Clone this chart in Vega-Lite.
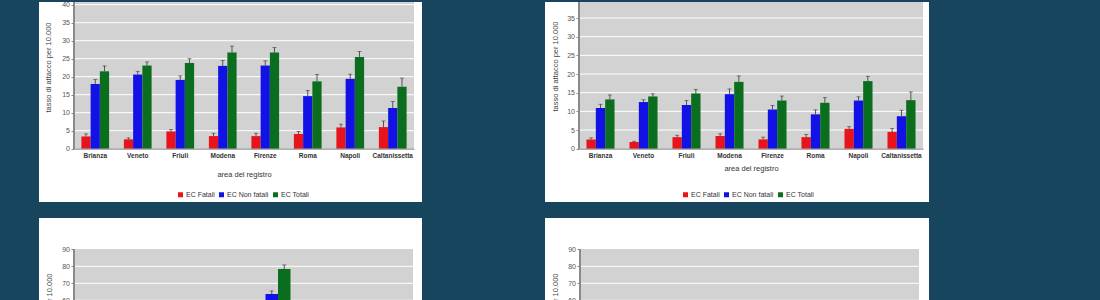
{
  "background": "#17455e",
  "padding": {"left": 38, "top": 0, "right": 172, "bottom": 0},
  "config": {"font": "Liberation Sans", "view": {"stroke": null}, "axisY": {"labelOverlap": false}},
  "datasets": {
    "tl": [
      {"area": "Brianza", "serie": "EC Fatali", "valore": 3.4, "sup": 4.1},
      {"area": "Brianza", "serie": "EC Non fatali", "valore": 18.0, "sup": 19.2},
      {"area": "Brianza", "serie": "EC Totali", "valore": 21.5, "sup": 23.0},
      {"area": "Veneto", "serie": "EC Fatali", "valore": 2.6, "sup": 3.0},
      {"area": "Veneto", "serie": "EC Non fatali", "valore": 20.6, "sup": 21.5},
      {"area": "Veneto", "serie": "EC Totali", "valore": 23.1, "sup": 24.1},
      {"area": "Friuli", "serie": "EC Fatali", "valore": 4.8, "sup": 5.3},
      {"area": "Friuli", "serie": "EC Non fatali", "valore": 19.1, "sup": 20.2},
      {"area": "Friuli", "serie": "EC Totali", "valore": 23.8, "sup": 25.0},
      {"area": "Modena", "serie": "EC Fatali", "valore": 3.5, "sup": 4.3},
      {"area": "Modena", "serie": "EC Non fatali", "valore": 23.0, "sup": 24.5},
      {"area": "Modena", "serie": "EC Totali", "valore": 26.7, "sup": 28.5},
      {"area": "Firenze", "serie": "EC Fatali", "valore": 3.5, "sup": 4.3},
      {"area": "Firenze", "serie": "EC Non fatali", "valore": 23.1, "sup": 24.4},
      {"area": "Firenze", "serie": "EC Totali", "valore": 26.7, "sup": 28.1},
      {"area": "Roma", "serie": "EC Fatali", "valore": 4.1, "sup": 4.8},
      {"area": "Roma", "serie": "EC Non fatali", "valore": 14.6, "sup": 16.2},
      {"area": "Roma", "serie": "EC Totali", "valore": 18.7, "sup": 20.6},
      {"area": "Napoli", "serie": "EC Fatali", "valore": 5.9, "sup": 6.8},
      {"area": "Napoli", "serie": "EC Non fatali", "valore": 19.4, "sup": 20.7},
      {"area": "Napoli", "serie": "EC Totali", "valore": 25.5, "sup": 27.0},
      {"area": "Caltanissetta", "serie": "EC Fatali", "valore": 6.0, "sup": 7.7},
      {"area": "Caltanissetta", "serie": "EC Non fatali", "valore": 11.3, "sup": 13.1},
      {"area": "Caltanissetta", "serie": "EC Totali", "valore": 17.2, "sup": 19.6}
    ],
    "tr": [
      {"area": "Brianza", "serie": "EC Fatali", "valore": 2.5, "sup": 2.9},
      {"area": "Brianza", "serie": "EC Non fatali", "valore": 10.9, "sup": 11.9},
      {"area": "Brianza", "serie": "EC Totali", "valore": 13.2, "sup": 14.4},
      {"area": "Veneto", "serie": "EC Fatali", "valore": 1.8, "sup": 2.0},
      {"area": "Veneto", "serie": "EC Non fatali", "valore": 12.5, "sup": 13.1},
      {"area": "Veneto", "serie": "EC Totali", "valore": 14.0, "sup": 14.7},
      {"area": "Friuli", "serie": "EC Fatali", "valore": 3.1, "sup": 3.6},
      {"area": "Friuli", "serie": "EC Non fatali", "valore": 11.7, "sup": 12.9},
      {"area": "Friuli", "serie": "EC Totali", "valore": 14.8, "sup": 15.9},
      {"area": "Modena", "serie": "EC Fatali", "valore": 3.4, "sup": 4.0},
      {"area": "Modena", "serie": "EC Non fatali", "valore": 14.6, "sup": 16.0},
      {"area": "Modena", "serie": "EC Totali", "valore": 17.9, "sup": 19.5},
      {"area": "Firenze", "serie": "EC Fatali", "valore": 2.5, "sup": 3.1},
      {"area": "Firenze", "serie": "EC Non fatali", "valore": 10.5, "sup": 11.6},
      {"area": "Firenze", "serie": "EC Totali", "valore": 12.9, "sup": 14.1},
      {"area": "Roma", "serie": "EC Fatali", "valore": 3.1, "sup": 3.8},
      {"area": "Roma", "serie": "EC Non fatali", "valore": 9.2, "sup": 10.4},
      {"area": "Roma", "serie": "EC Totali", "valore": 12.3, "sup": 13.7},
      {"area": "Napoli", "serie": "EC Fatali", "valore": 5.3, "sup": 5.9},
      {"area": "Napoli", "serie": "EC Non fatali", "valore": 12.9, "sup": 13.9},
      {"area": "Napoli", "serie": "EC Totali", "valore": 18.1, "sup": 19.4},
      {"area": "Caltanissetta", "serie": "EC Fatali", "valore": 4.5, "sup": 5.4},
      {"area": "Caltanissetta", "serie": "EC Non fatali", "valore": 8.7, "sup": 10.3},
      {"area": "Caltanissetta", "serie": "EC Totali", "valore": 13.0, "sup": 15.2}
    ],
    "bl": [
      {"classe": "35-44", "serie": "EC Fatali", "valore": 1.2, "sup": 1.6},
      {"classe": "35-44", "serie": "EC Non fatali", "valore": 5.0, "sup": 5.8},
      {"classe": "35-44", "serie": "EC Totali", "valore": 6.2, "sup": 7.0},
      {"classe": "45-54", "serie": "EC Fatali", "valore": 3.5, "sup": 4.2},
      {"classe": "45-54", "serie": "EC Non fatali", "valore": 16.0, "sup": 17.5},
      {"classe": "45-54", "serie": "EC Totali", "valore": 19.5, "sup": 21.0},
      {"classe": "55-64", "serie": "EC Fatali", "valore": 7.5, "sup": 8.6},
      {"classe": "55-64", "serie": "EC Non fatali", "valore": 33.0, "sup": 35.0},
      {"classe": "55-64", "serie": "EC Totali", "valore": 40.5, "sup": 42.5},
      {"classe": "65-74", "serie": "EC Fatali", "valore": 14.5, "sup": 16.0},
      {"classe": "65-74", "serie": "EC Non fatali", "valore": 63.7, "sup": 65.5},
      {"classe": "65-74", "serie": "EC Totali", "valore": 78.4, "sup": 80.8},
      {"classe": "75-84", "serie": "EC Fatali", "valore": 12.0, "sup": 13.5},
      {"classe": "75-84", "serie": "EC Non fatali", "valore": 38.0, "sup": 40.5},
      {"classe": "75-84", "serie": "EC Totali", "valore": 50.0, "sup": 53.0},
      {"classe": "85+", "serie": "EC Fatali", "valore": 9.0, "sup": 10.5},
      {"classe": "85+", "serie": "EC Non fatali", "valore": 22.0, "sup": 24.5},
      {"classe": "85+", "serie": "EC Totali", "valore": 31.0, "sup": 34.0}
    ],
    "br": [
      {"classe": "35-44", "serie": "EC Fatali", "valore": 0.4, "sup": 0.7},
      {"classe": "35-44", "serie": "EC Non fatali", "valore": 1.2, "sup": 1.6},
      {"classe": "35-44", "serie": "EC Totali", "valore": 1.6, "sup": 2.0},
      {"classe": "45-54", "serie": "EC Fatali", "valore": 1.0, "sup": 1.4},
      {"classe": "45-54", "serie": "EC Non fatali", "valore": 4.0, "sup": 4.8},
      {"classe": "45-54", "serie": "EC Totali", "valore": 5.0, "sup": 5.9},
      {"classe": "55-64", "serie": "EC Fatali", "valore": 2.5, "sup": 3.1},
      {"classe": "55-64", "serie": "EC Non fatali", "valore": 11.0, "sup": 12.2},
      {"classe": "55-64", "serie": "EC Totali", "valore": 13.5, "sup": 14.8},
      {"classe": "65-74", "serie": "EC Fatali", "valore": 7.0, "sup": 8.0},
      {"classe": "65-74", "serie": "EC Non fatali", "valore": 26.0, "sup": 27.8},
      {"classe": "65-74", "serie": "EC Totali", "valore": 33.0, "sup": 35.0},
      {"classe": "75-84", "serie": "EC Fatali", "valore": 10.0, "sup": 11.3},
      {"classe": "75-84", "serie": "EC Non fatali", "valore": 30.0, "sup": 32.0},
      {"classe": "75-84", "serie": "EC Totali", "valore": 40.0, "sup": 42.5},
      {"classe": "85+", "serie": "EC Fatali", "valore": 9.5, "sup": 11.0},
      {"classe": "85+", "serie": "EC Non fatali", "valore": 20.0, "sup": 22.5},
      {"classe": "85+", "serie": "EC Totali", "valore": 29.5, "sup": 32.5}
    ]
  },
  "spacing": 16,
  "resolve": {"scale": {"color": "independent", "xOffset": "independent"}, "legend": {"color": "independent"}},
  "vconcat": [
    {
      "spacing": 123,
      "bounds": "flush",
      "resolve": {"scale": {"color": "independent", "xOffset": "independent"}, "legend": {"color": "independent"}},
      "hconcat": [
        {
          "width": 383,
          "height": 200,
          "view": {"fill": "#ffffff", "stroke": null},
          "data": {"name": "tl"},
          "layer": [
            {
              "mark": {"type": "bar", "color": "#d2d2d2", "clip": true},
              "encoding": {
                "x": {"field": "area", "type": "nominal", "sort": ["Brianza", "Veneto", "Friuli", "Modena", "Firenze", "Roma", "Napoli", "Caltanissetta"], "scale": {"range": [35, 375], "paddingInner": 0, "paddingOuter": 0}, "axis": {"title": "area del registro", "offset": -53.3, "zindex": 1, "labelAngle": 0, "labelOverlap": false, "labelFontSize": 6.5, "labelFontWeight": "bold", "labelColor": "#333333", "labelPadding": 4, "ticks": false, "domainColor": "#8a8a8a", "titleFontSize": 7.5, "titleFontWeight": "normal", "titleColor": "#333333", "titlePadding": 11}},
                "y": {"datum": 0, "type": "quantitative", "scale": {"domain": [-14.81, 40.75], "nice": false, "zero": false}, "axis": {"title": "tasso di attacco per 10.000", "values": [0, 5, 10, 15, 20, 25, 30, 35, 40], "labelOverlap": false, "offset": -35, "zindex": 1, "domain": false, "grid": false, "tickSize": 3, "tickColor": "#8a8a8a", "labelFontSize": 7, "labelColor": "#555555", "labelPadding": 1.5, "titleFontSize": 7.5, "titleFontWeight": "normal", "titleColor": "#444444", "titleX": -25.5, "titleY": 65, "titleAngle": -90, "titleAlign": "center", "titleBaseline": "middle"}},
                "y2": {"datum": 45}
              }
            },
            {
              "data": {"values": [{"g": 5}, {"g": 10}, {"g": 15}, {"g": 20}, {"g": 25}, {"g": 30}, {"g": 35}, {"g": 40}]},
              "mark": {"type": "rule", "color": "#ffffff", "strokeWidth": 1},
              "encoding": {"y": {"field": "g", "type": "quantitative", "axis": {"title": "tasso di attacco per 10.000", "values": [0, 5, 10, 15, 20, 25, 30, 35, 40], "labelOverlap": false, "offset": -35, "zindex": 1, "domain": false, "grid": false, "tickSize": 3, "tickColor": "#8a8a8a", "labelFontSize": 7, "labelColor": "#555555", "labelPadding": 1.5, "titleFontSize": 7.5, "titleFontWeight": "normal", "titleColor": "#444444", "titleX": -25.5, "titleY": 65, "titleAngle": -90, "titleAlign": "center", "titleBaseline": "middle"}}}
            },
            {
              "mark": {"type": "rule", "color": "#8a8a8a", "clip": true},
              "encoding": {
                "x": {"datum": "Brianza", "type": "nominal", "bandPosition": 0},
                "y": {"datum": 0, "type": "quantitative", "axis": {"title": "tasso di attacco per 10.000", "values": [0, 5, 10, 15, 20, 25, 30, 35, 40], "labelOverlap": false, "offset": -35, "zindex": 1, "domain": false, "grid": false, "tickSize": 3, "tickColor": "#8a8a8a", "labelFontSize": 7, "labelColor": "#555555", "labelPadding": 1.5, "titleFontSize": 7.5, "titleFontWeight": "normal", "titleColor": "#444444", "titleX": -25.5, "titleY": 65, "titleAngle": -90, "titleAlign": "center", "titleBaseline": "middle"}},
                "y2": {"datum": 45}
              }
            },
            {
              "mark": {"type": "bar", "clip": true},
              "encoding": {
                "x": {"field": "area", "type": "nominal", "sort": ["Brianza", "Veneto", "Friuli", "Modena", "Firenze", "Roma", "Napoli", "Caltanissetta"]},
                "xOffset": {"field": "serie", "type": "nominal", "sort": ["EC Fatali", "EC Non fatali", "EC Totali"], "scale": {"paddingInner": 0, "paddingOuter": 0.8}},
                "y": {"field": "valore", "type": "quantitative", "axis": {"title": "tasso di attacco per 10.000", "values": [0, 5, 10, 15, 20, 25, 30, 35, 40], "labelOverlap": false, "offset": -35, "zindex": 1, "domain": false, "grid": false, "tickSize": 3, "tickColor": "#8a8a8a", "labelFontSize": 7, "labelColor": "#555555", "labelPadding": 1.5, "titleFontSize": 7.5, "titleFontWeight": "normal", "titleColor": "#444444", "titleX": -25.5, "titleY": 65, "titleAngle": -90, "titleAlign": "center", "titleBaseline": "middle"}},
                "color": {"field": "serie", "type": "nominal", "scale": {"domain": ["EC Fatali", "EC Non fatali", "EC Totali"], "range": ["#e8141c", "#1212e6", "#0a6e1e"]}, "legend": {"orient": "none", "legendX": 138, "legendY": 189, "direction": "horizontal", "title": null, "symbolType": "square", "symbolSize": 25, "symbolStrokeWidth": 0, "labelFontSize": 7, "labelColor": "#333333", "labelOffset": 2, "columnPadding": 3, "padding": 0}}
              }
            },
            {
              "mark": {"type": "rule", "color": "#333333", "strokeWidth": 0.8, "clip": true},
              "encoding": {
                "x": {"field": "area", "type": "nominal", "sort": ["Brianza", "Veneto", "Friuli", "Modena", "Firenze", "Roma", "Napoli", "Caltanissetta"]},
                "xOffset": {"field": "serie", "type": "nominal", "sort": ["EC Fatali", "EC Non fatali", "EC Totali"]},
                "y": {"field": "valore", "type": "quantitative", "axis": {"title": "tasso di attacco per 10.000", "values": [0, 5, 10, 15, 20, 25, 30, 35, 40], "labelOverlap": false, "offset": -35, "zindex": 1, "domain": false, "grid": false, "tickSize": 3, "tickColor": "#8a8a8a", "labelFontSize": 7, "labelColor": "#555555", "labelPadding": 1.5, "titleFontSize": 7.5, "titleFontWeight": "normal", "titleColor": "#444444", "titleX": -25.5, "titleY": 65, "titleAngle": -90, "titleAlign": "center", "titleBaseline": "middle"}},
                "y2": {"field": "sup"}
              }
            },
            {
              "mark": {"type": "tick", "orient": "horizontal", "size": 4, "thickness": 0.8, "color": "#333333", "clip": true},
              "encoding": {
                "x": {"field": "area", "type": "nominal", "sort": ["Brianza", "Veneto", "Friuli", "Modena", "Firenze", "Roma", "Napoli", "Caltanissetta"]},
                "xOffset": {"field": "serie", "type": "nominal", "sort": ["EC Fatali", "EC Non fatali", "EC Totali"]},
                "y": {"field": "sup", "type": "quantitative", "axis": {"title": "tasso di attacco per 10.000", "values": [0, 5, 10, 15, 20, 25, 30, 35, 40], "labelOverlap": false, "offset": -35, "zindex": 1, "domain": false, "grid": false, "tickSize": 3, "tickColor": "#8a8a8a", "labelFontSize": 7, "labelColor": "#555555", "labelPadding": 1.5, "titleFontSize": 7.5, "titleFontWeight": "normal", "titleColor": "#444444", "titleX": -25.5, "titleY": 65, "titleAngle": -90, "titleAlign": "center", "titleBaseline": "middle"}}
              }
            }
          ]
        },
        {
          "width": 384,
          "height": 200,
          "view": {"fill": "#ffffff", "stroke": null},
          "data": {"name": "tr"},
          "layer": [
            {
              "mark": {"type": "bar", "color": "#d2d2d2", "clip": true},
              "encoding": {
                "x": {"field": "area", "type": "nominal", "sort": ["Brianza", "Veneto", "Friuli", "Modena", "Firenze", "Roma", "Napoli", "Caltanissetta"], "scale": {"range": [34, 378], "paddingInner": 0, "paddingOuter": 0}, "axis": {"title": "area del registro", "offset": -53.3, "zindex": 1, "labelAngle": 0, "labelOverlap": false, "labelFontSize": 6.5, "labelFontWeight": "bold", "labelColor": "#333333", "labelPadding": 4, "ticks": false, "domainColor": "#8a8a8a", "titleFontSize": 7.5, "titleFontWeight": "normal", "titleColor": "#333333", "titlePadding": 5}},
                "y": {"datum": 0, "type": "quantitative", "scale": {"domain": [-14.27, 39.29], "nice": false, "zero": false}, "axis": {"title": "tasso di attacco per 10.000", "values": [0, 5, 10, 15, 20, 25, 30, 35], "labelOverlap": false, "offset": -34, "zindex": 1, "domain": false, "grid": false, "tickSize": 3, "tickColor": "#8a8a8a", "labelFontSize": 7, "labelColor": "#555555", "labelPadding": 1.5, "titleFontSize": 7.5, "titleFontWeight": "normal", "titleColor": "#444444", "titleX": -24, "titleY": 64, "titleAngle": -90, "titleAlign": "center", "titleBaseline": "middle"}},
                "y2": {"datum": 45}
              }
            },
            {
              "data": {"values": [{"g": 5}, {"g": 10}, {"g": 15}, {"g": 20}, {"g": 25}, {"g": 30}, {"g": 35}]},
              "mark": {"type": "rule", "color": "#ffffff", "strokeWidth": 1},
              "encoding": {"y": {"field": "g", "type": "quantitative", "axis": {"title": "tasso di attacco per 10.000", "values": [0, 5, 10, 15, 20, 25, 30, 35], "labelOverlap": false, "offset": -34, "zindex": 1, "domain": false, "grid": false, "tickSize": 3, "tickColor": "#8a8a8a", "labelFontSize": 7, "labelColor": "#555555", "labelPadding": 1.5, "titleFontSize": 7.5, "titleFontWeight": "normal", "titleColor": "#444444", "titleX": -24, "titleY": 64, "titleAngle": -90, "titleAlign": "center", "titleBaseline": "middle"}}}
            },
            {
              "mark": {"type": "rule", "color": "#8a8a8a", "clip": true},
              "encoding": {
                "x": {"datum": "Brianza", "type": "nominal", "bandPosition": 0},
                "y": {"datum": 0, "type": "quantitative", "axis": {"title": "tasso di attacco per 10.000", "values": [0, 5, 10, 15, 20, 25, 30, 35], "labelOverlap": false, "offset": -34, "zindex": 1, "domain": false, "grid": false, "tickSize": 3, "tickColor": "#8a8a8a", "labelFontSize": 7, "labelColor": "#555555", "labelPadding": 1.5, "titleFontSize": 7.5, "titleFontWeight": "normal", "titleColor": "#444444", "titleX": -24, "titleY": 64, "titleAngle": -90, "titleAlign": "center", "titleBaseline": "middle"}},
                "y2": {"datum": 45}
              }
            },
            {
              "mark": {"type": "bar", "clip": true},
              "encoding": {
                "x": {"field": "area", "type": "nominal", "sort": ["Brianza", "Veneto", "Friuli", "Modena", "Firenze", "Roma", "Napoli", "Caltanissetta"]},
                "xOffset": {"field": "serie", "type": "nominal", "sort": ["EC Fatali", "EC Non fatali", "EC Totali"], "scale": {"paddingInner": 0, "paddingOuter": 0.8}},
                "y": {"field": "valore", "type": "quantitative", "axis": {"title": "tasso di attacco per 10.000", "values": [0, 5, 10, 15, 20, 25, 30, 35], "labelOverlap": false, "offset": -34, "zindex": 1, "domain": false, "grid": false, "tickSize": 3, "tickColor": "#8a8a8a", "labelFontSize": 7, "labelColor": "#555555", "labelPadding": 1.5, "titleFontSize": 7.5, "titleFontWeight": "normal", "titleColor": "#444444", "titleX": -24, "titleY": 64, "titleAngle": -90, "titleAlign": "center", "titleBaseline": "middle"}},
                "color": {"field": "serie", "type": "nominal", "scale": {"domain": ["EC Fatali", "EC Non fatali", "EC Totali"], "range": ["#e8141c", "#1212e6", "#0a6e1e"]}, "legend": {"orient": "none", "legendX": 137, "legendY": 189, "direction": "horizontal", "title": null, "symbolType": "square", "symbolSize": 25, "symbolStrokeWidth": 0, "labelFontSize": 7, "labelColor": "#333333", "labelOffset": 2, "columnPadding": 3, "padding": 0}}
              }
            },
            {
              "mark": {"type": "rule", "color": "#333333", "strokeWidth": 0.8, "clip": true},
              "encoding": {
                "x": {"field": "area", "type": "nominal", "sort": ["Brianza", "Veneto", "Friuli", "Modena", "Firenze", "Roma", "Napoli", "Caltanissetta"]},
                "xOffset": {"field": "serie", "type": "nominal", "sort": ["EC Fatali", "EC Non fatali", "EC Totali"]},
                "y": {"field": "valore", "type": "quantitative", "axis": {"title": "tasso di attacco per 10.000", "values": [0, 5, 10, 15, 20, 25, 30, 35], "labelOverlap": false, "offset": -34, "zindex": 1, "domain": false, "grid": false, "tickSize": 3, "tickColor": "#8a8a8a", "labelFontSize": 7, "labelColor": "#555555", "labelPadding": 1.5, "titleFontSize": 7.5, "titleFontWeight": "normal", "titleColor": "#444444", "titleX": -24, "titleY": 64, "titleAngle": -90, "titleAlign": "center", "titleBaseline": "middle"}},
                "y2": {"field": "sup"}
              }
            },
            {
              "mark": {"type": "tick", "orient": "horizontal", "size": 4, "thickness": 0.8, "color": "#333333", "clip": true},
              "encoding": {
                "x": {"field": "area", "type": "nominal", "sort": ["Brianza", "Veneto", "Friuli", "Modena", "Firenze", "Roma", "Napoli", "Caltanissetta"]},
                "xOffset": {"field": "serie", "type": "nominal", "sort": ["EC Fatali", "EC Non fatali", "EC Totali"]},
                "y": {"field": "sup", "type": "quantitative", "axis": {"title": "tasso di attacco per 10.000", "values": [0, 5, 10, 15, 20, 25, 30, 35], "labelOverlap": false, "offset": -34, "zindex": 1, "domain": false, "grid": false, "tickSize": 3, "tickColor": "#8a8a8a", "labelFontSize": 7, "labelColor": "#555555", "labelPadding": 1.5, "titleFontSize": 7.5, "titleFontWeight": "normal", "titleColor": "#444444", "titleX": -24, "titleY": 64, "titleAngle": -90, "titleAlign": "center", "titleBaseline": "middle"}}
              }
            }
          ]
        }
      ]
    },
    {
      "spacing": 123,
      "bounds": "flush",
      "resolve": {"scale": {"color": "independent", "xOffset": "independent"}, "legend": {"color": "independent"}},
      "hconcat": [
        {
          "width": 383,
          "height": 84,
          "view": {"fill": "#ffffff", "stroke": null},
          "data": {"name": "bl"},
          "layer": [
            {
              "mark": {"type": "bar", "color": "#d2d2d2", "clip": true},
              "encoding": {
                "x": {"field": "classe", "type": "nominal", "sort": ["35-44", "45-54", "55-64", "65-74", "75-84", "85+"], "scale": {"range": [35, 374], "paddingInner": 0, "paddingOuter": 0}, "axis": null},
                "y": {"datum": 0, "type": "quantitative", "scale": {"domain": [59, 108.4], "nice": false, "zero": false}, "axis": {"title": "tasso di attacco per 10.000", "values": [60, 70, 80, 90], "labelOverlap": false, "offset": -35, "zindex": 1, "domain": false, "grid": false, "tickSize": 3, "tickColor": "#8a8a8a", "labelFontSize": 7, "labelColor": "#555555", "labelPadding": 1.5, "titleFontSize": 7.5, "titleFontWeight": "normal", "titleColor": "#444444", "titleX": -25, "titleY": 100, "titleAngle": -90, "titleAlign": "center", "titleBaseline": "middle"}},
                "y2": {"datum": 90}
              }
            },
            {
              "data": {"values": [{"g": 60}, {"g": 70}, {"g": 80}]},
              "mark": {"type": "rule", "color": "#ffffff", "strokeWidth": 1},
              "encoding": {"y": {"field": "g", "type": "quantitative", "axis": {"title": "tasso di attacco per 10.000", "values": [60, 70, 80, 90], "labelOverlap": false, "offset": -35, "zindex": 1, "domain": false, "grid": false, "tickSize": 3, "tickColor": "#8a8a8a", "labelFontSize": 7, "labelColor": "#555555", "labelPadding": 1.5, "titleFontSize": 7.5, "titleFontWeight": "normal", "titleColor": "#444444", "titleX": -25, "titleY": 100, "titleAngle": -90, "titleAlign": "center", "titleBaseline": "middle"}}}
            },
            {
              "mark": {"type": "rule", "color": "#8a8a8a", "clip": true},
              "encoding": {
                "x": {"datum": "35-44", "type": "nominal", "bandPosition": 0},
                "y": {"datum": 0, "type": "quantitative", "axis": {"title": "tasso di attacco per 10.000", "values": [60, 70, 80, 90], "labelOverlap": false, "offset": -35, "zindex": 1, "domain": false, "grid": false, "tickSize": 3, "tickColor": "#8a8a8a", "labelFontSize": 7, "labelColor": "#555555", "labelPadding": 1.5, "titleFontSize": 7.5, "titleFontWeight": "normal", "titleColor": "#444444", "titleX": -25, "titleY": 100, "titleAngle": -90, "titleAlign": "center", "titleBaseline": "middle"}},
                "y2": {"datum": 90}
              }
            },
            {
              "mark": {"type": "bar", "clip": true},
              "encoding": {
                "x": {"field": "classe", "type": "nominal", "sort": ["35-44", "45-54", "55-64", "65-74", "75-84", "85+"]},
                "xOffset": {"field": "serie", "type": "nominal", "sort": ["EC Fatali", "EC Non fatali", "EC Totali"], "scale": {"paddingInner": 0, "paddingOuter": 0.76}},
                "y": {"field": "valore", "type": "quantitative", "axis": {"title": "tasso di attacco per 10.000", "values": [60, 70, 80, 90], "labelOverlap": false, "offset": -35, "zindex": 1, "domain": false, "grid": false, "tickSize": 3, "tickColor": "#8a8a8a", "labelFontSize": 7, "labelColor": "#555555", "labelPadding": 1.5, "titleFontSize": 7.5, "titleFontWeight": "normal", "titleColor": "#444444", "titleX": -25, "titleY": 100, "titleAngle": -90, "titleAlign": "center", "titleBaseline": "middle"}},
                "color": {"field": "serie", "type": "nominal", "scale": {"domain": ["EC Fatali", "EC Non fatali", "EC Totali"], "range": ["#e8141c", "#1212e6", "#0a6e1e"]}, "legend": null}
              }
            },
            {
              "mark": {"type": "rule", "color": "#333333", "strokeWidth": 0.8, "clip": true},
              "encoding": {
                "x": {"field": "classe", "type": "nominal", "sort": ["35-44", "45-54", "55-64", "65-74", "75-84", "85+"]},
                "xOffset": {"field": "serie", "type": "nominal", "sort": ["EC Fatali", "EC Non fatali", "EC Totali"]},
                "y": {"field": "valore", "type": "quantitative", "axis": {"title": "tasso di attacco per 10.000", "values": [60, 70, 80, 90], "labelOverlap": false, "offset": -35, "zindex": 1, "domain": false, "grid": false, "tickSize": 3, "tickColor": "#8a8a8a", "labelFontSize": 7, "labelColor": "#555555", "labelPadding": 1.5, "titleFontSize": 7.5, "titleFontWeight": "normal", "titleColor": "#444444", "titleX": -25, "titleY": 100, "titleAngle": -90, "titleAlign": "center", "titleBaseline": "middle"}},
                "y2": {"field": "sup"}
              }
            },
            {
              "mark": {"type": "tick", "orient": "horizontal", "size": 4, "thickness": 0.8, "color": "#333333", "clip": true},
              "encoding": {
                "x": {"field": "classe", "type": "nominal", "sort": ["35-44", "45-54", "55-64", "65-74", "75-84", "85+"]},
                "xOffset": {"field": "serie", "type": "nominal", "sort": ["EC Fatali", "EC Non fatali", "EC Totali"]},
                "y": {"field": "sup", "type": "quantitative", "axis": {"title": "tasso di attacco per 10.000", "values": [60, 70, 80, 90], "labelOverlap": false, "offset": -35, "zindex": 1, "domain": false, "grid": false, "tickSize": 3, "tickColor": "#8a8a8a", "labelFontSize": 7, "labelColor": "#555555", "labelPadding": 1.5, "titleFontSize": 7.5, "titleFontWeight": "normal", "titleColor": "#444444", "titleX": -25, "titleY": 100, "titleAngle": -90, "titleAlign": "center", "titleBaseline": "middle"}}
              }
            }
          ]
        },
        {
          "width": 384,
          "height": 84,
          "view": {"fill": "#ffffff", "stroke": null},
          "data": {"name": "br"},
          "layer": [
            {
              "mark": {"type": "bar", "color": "#d2d2d2", "clip": true},
              "encoding": {
                "x": {"field": "classe", "type": "nominal", "sort": ["35-44", "45-54", "55-64", "65-74", "75-84", "85+"], "scale": {"range": [35, 374], "paddingInner": 0, "paddingOuter": 0}, "axis": null},
                "y": {"datum": 0, "type": "quantitative", "scale": {"domain": [59, 108.4], "nice": false, "zero": false}, "axis": {"title": "tasso di attacco per 10.000", "values": [60, 70, 80, 90], "labelOverlap": false, "offset": -35, "zindex": 1, "domain": false, "grid": false, "tickSize": 3, "tickColor": "#8a8a8a", "labelFontSize": 7, "labelColor": "#555555", "labelPadding": 1.5, "titleFontSize": 7.5, "titleFontWeight": "normal", "titleColor": "#444444", "titleX": -25, "titleY": 100, "titleAngle": -90, "titleAlign": "center", "titleBaseline": "middle"}},
                "y2": {"datum": 90}
              }
            },
            {
              "data": {"values": [{"g": 60}, {"g": 70}, {"g": 80}]},
              "mark": {"type": "rule", "color": "#ffffff", "strokeWidth": 1},
              "encoding": {"y": {"field": "g", "type": "quantitative", "axis": {"title": "tasso di attacco per 10.000", "values": [60, 70, 80, 90], "labelOverlap": false, "offset": -35, "zindex": 1, "domain": false, "grid": false, "tickSize": 3, "tickColor": "#8a8a8a", "labelFontSize": 7, "labelColor": "#555555", "labelPadding": 1.5, "titleFontSize": 7.5, "titleFontWeight": "normal", "titleColor": "#444444", "titleX": -25, "titleY": 100, "titleAngle": -90, "titleAlign": "center", "titleBaseline": "middle"}}}
            },
            {
              "mark": {"type": "rule", "color": "#8a8a8a", "clip": true},
              "encoding": {
                "x": {"datum": "35-44", "type": "nominal", "bandPosition": 0},
                "y": {"datum": 0, "type": "quantitative", "axis": {"title": "tasso di attacco per 10.000", "values": [60, 70, 80, 90], "labelOverlap": false, "offset": -35, "zindex": 1, "domain": false, "grid": false, "tickSize": 3, "tickColor": "#8a8a8a", "labelFontSize": 7, "labelColor": "#555555", "labelPadding": 1.5, "titleFontSize": 7.5, "titleFontWeight": "normal", "titleColor": "#444444", "titleX": -25, "titleY": 100, "titleAngle": -90, "titleAlign": "center", "titleBaseline": "middle"}},
                "y2": {"datum": 90}
              }
            },
            {
              "mark": {"type": "bar", "clip": true},
              "encoding": {
                "x": {"field": "classe", "type": "nominal", "sort": ["35-44", "45-54", "55-64", "65-74", "75-84", "85+"]},
                "xOffset": {"field": "serie", "type": "nominal", "sort": ["EC Fatali", "EC Non fatali", "EC Totali"], "scale": {"paddingInner": 0, "paddingOuter": 0.76}},
                "y": {"field": "valore", "type": "quantitative", "axis": {"title": "tasso di attacco per 10.000", "values": [60, 70, 80, 90], "labelOverlap": false, "offset": -35, "zindex": 1, "domain": false, "grid": false, "tickSize": 3, "tickColor": "#8a8a8a", "labelFontSize": 7, "labelColor": "#555555", "labelPadding": 1.5, "titleFontSize": 7.5, "titleFontWeight": "normal", "titleColor": "#444444", "titleX": -25, "titleY": 100, "titleAngle": -90, "titleAlign": "center", "titleBaseline": "middle"}},
                "color": {"field": "serie", "type": "nominal", "scale": {"domain": ["EC Fatali", "EC Non fatali", "EC Totali"], "range": ["#e8141c", "#1212e6", "#0a6e1e"]}, "legend": null}
              }
            },
            {
              "mark": {"type": "rule", "color": "#333333", "strokeWidth": 0.8, "clip": true},
              "encoding": {
                "x": {"field": "classe", "type": "nominal", "sort": ["35-44", "45-54", "55-64", "65-74", "75-84", "85+"]},
                "xOffset": {"field": "serie", "type": "nominal", "sort": ["EC Fatali", "EC Non fatali", "EC Totali"]},
                "y": {"field": "valore", "type": "quantitative", "axis": {"title": "tasso di attacco per 10.000", "values": [60, 70, 80, 90], "labelOverlap": false, "offset": -35, "zindex": 1, "domain": false, "grid": false, "tickSize": 3, "tickColor": "#8a8a8a", "labelFontSize": 7, "labelColor": "#555555", "labelPadding": 1.5, "titleFontSize": 7.5, "titleFontWeight": "normal", "titleColor": "#444444", "titleX": -25, "titleY": 100, "titleAngle": -90, "titleAlign": "center", "titleBaseline": "middle"}},
                "y2": {"field": "sup"}
              }
            },
            {
              "mark": {"type": "tick", "orient": "horizontal", "size": 4, "thickness": 0.8, "color": "#333333", "clip": true},
              "encoding": {
                "x": {"field": "classe", "type": "nominal", "sort": ["35-44", "45-54", "55-64", "65-74", "75-84", "85+"]},
                "xOffset": {"field": "serie", "type": "nominal", "sort": ["EC Fatali", "EC Non fatali", "EC Totali"]},
                "y": {"field": "sup", "type": "quantitative", "axis": {"title": "tasso di attacco per 10.000", "values": [60, 70, 80, 90], "labelOverlap": false, "offset": -35, "zindex": 1, "domain": false, "grid": false, "tickSize": 3, "tickColor": "#8a8a8a", "labelFontSize": 7, "labelColor": "#555555", "labelPadding": 1.5, "titleFontSize": 7.5, "titleFontWeight": "normal", "titleColor": "#444444", "titleX": -25, "titleY": 100, "titleAngle": -90, "titleAlign": "center", "titleBaseline": "middle"}}
              }
            }
          ]
        }
      ]
    }
  ]
}
